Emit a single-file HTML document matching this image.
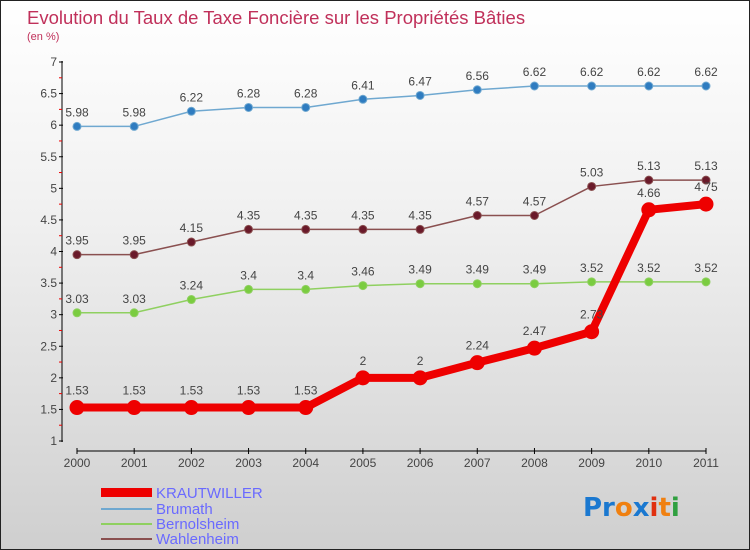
<!DOCTYPE html>
<html><head><meta charset="utf-8"><style>
body{margin:0}
#c{width:750px;height:550px;position:relative;box-sizing:border-box;border:1px solid #222;background:linear-gradient(#ffffff 0%,#f0f0f0 40%,#cfcfcf 100%);font-family:"Liberation Sans",sans-serif;overflow:hidden}
</style></head><body>
<div id="c">
<svg id="s" width="750" height="550" style="position:absolute;left:0;top:0">
<text x="26" y="23" font-size="18.5" fill="#c0305a">Evolution du Taux de Taxe Foncière sur les Propriétés Bâties</text>
<text x="26" y="39" font-size="11" fill="#c0305a">(en %)</text>
<g id="axes"></g><g id="series"></g>
<g>
<rect x="100" y="487" width="51" height="9" fill="#e00"/>
<text x="155" y="497" font-size="15" fill="#6a6aff">KRAUTWILLER</text>
<rect x="100" y="507" width="51" height="2" fill="#6fa8d0"/>
<text x="155" y="513" font-size="15" fill="#6a6aff">Brumath</text>
<rect x="100" y="522" width="51" height="2" fill="#8fd060"/>
<text x="155" y="528" font-size="15" fill="#6a6aff">Bernolsheim</text>
<rect x="100" y="537" width="51" height="2" fill="#8a5050"/>
<text x="155" y="543" font-size="15" fill="#6a6aff">Wahlenheim</text>
</g>
<g font-size="26" font-weight="bold" font-family="'DejaVu Sans',sans-serif">
<text x="582" y="515"><tspan fill="#1a78d0">Pr</tspan><tspan fill="#f08010">o</tspan><tspan fill="#1a78d0">x</tspan><tspan fill="#e03010">i</tspan><tspan fill="#f08010">t</tspan><tspan fill="#30a040">i</tspan></text>
</g>
</svg>
</div>
<script>
const years=[2000,2001,2002,2003,2004,2005,2006,2007,2008,2009,2010,2011];
const yTicks=[1,1.5,2,2.5,3,3.5,4,4.5,5,5.5,6,6.5,7];
const krautwiller=[1.53,1.53,1.53,1.53,1.53,2,2,2.24,2.47,2.73,4.66,4.75];
const brumath=[5.98,5.98,6.22,6.28,6.28,6.41,6.47,6.56,6.62,6.62,6.62,6.62];
const bernolsheim=[3.03,3.03,3.24,3.4,3.4,3.46,3.49,3.49,3.49,3.52,3.52,3.52];
const wahlenheim=[3.95,3.95,4.15,4.35,4.35,4.35,4.35,4.57,4.57,5.03,5.13,5.13];
const NS="http://www.w3.org/2000/svg";
function xs(i){return 76+i*(705-76)/(years.length-1);}
function ys(v){return 440-(v-1)*(440-61)/6;}
function mk(t,a,p){const e=document.createElementNS(NS,t);for(const k in a)e.setAttribute(k,a[k]);p.appendChild(e);return e;}
const ax=document.getElementById('axes');
let e=mk('line',{x1:61,y1:60,x2:61,y2:441,stroke:'#000','stroke-width':1},ax);


e=mk('line',{x1:76,y1:450,x2:705,y2:450,stroke:'#000','stroke-width':1},ax);


yTicks.forEach((v,i)=>{
 const y=ys(v);
 mk('line',{x1:58,y1:y,x2:62,y2:y,stroke:'#000'},ax);
 if(i<yTicks.length-1){mk('line',{x1:58,y1:ys(v+0.25),x2:61,y2:ys(v+0.25),stroke:'#e00'},ax);}
 const t=mk('text',{x:56,y:y+4,'text-anchor':'end','font-size':12,fill:'#444'},ax);
 t.textContent=String(v);
 
 
});
years.forEach((yr,i)=>{
 const x=xs(i);
 mk('line',{x1:x,y1:447,x2:x,y2:453,stroke:'#000'},ax);
 const t=mk('text',{x:x,y:466,'text-anchor':'middle','font-size':12,fill:'#444'},ax);
 t.textContent=String(yr);
 
 
});
const sg=document.getElementById('series');
function draw(name,data,color,dot,w,r){
 const g=mk('g',{},sg);
 
 
 const pts=data.map((v,i)=>xs(i)+','+ys(v)).join(' ');
 mk('polyline',{points:pts,fill:'none',stroke:color,'stroke-width':w,'stroke-linejoin':'round'},g);
 data.forEach((v,i)=>{
  const c=mk('circle',{cx:xs(i),cy:ys(v),r:r,fill:dot,stroke:color,'stroke-width':1},g);
  
  
  const t=mk('text',{x:xs(i),y:ys(v)-(r+6),'text-anchor':'middle','font-size':12,fill:'#444'},g);
  t.textContent=String(v);
  
  
 });
}
draw('brumath',brumath,'#6fa8d0','#2f7cc0',1.5,4);
draw('bernolsheim',bernolsheim,'#8fd060','#7acc40',1.5,4);
draw('wahlenheim',wahlenheim,'#8a5050','#6a1a2a',1.5,4);
draw('krautwiller',krautwiller,'#e00','#e00',8,7);
</script>
</body></html>
